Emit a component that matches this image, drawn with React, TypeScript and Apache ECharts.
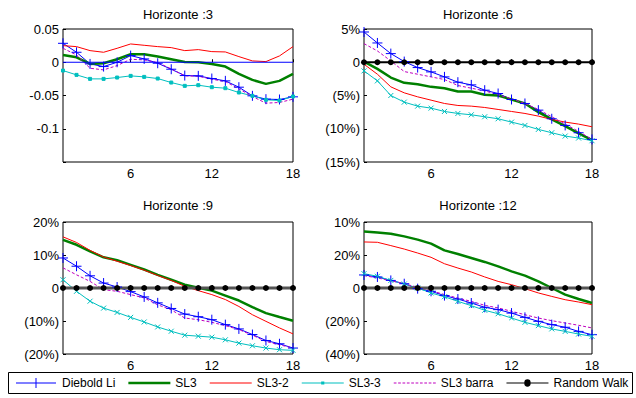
import React, { useEffect, useRef } from "react";
import * as echarts from "echarts";

const horizons = [1, 2, 3, 4, 5, 6, 7, 8, 9, 10, 11, 12, 13, 14, 15, 16, 17, 18];
const titles = ["Horizonte :3", "Horizonte :6", "Horizonte :9", "Horizonte :12"];
const seriesNames = ["Diebold Li", "SL3", "SL3-2", "SL3-3", "SL3 barra", "Random Walk"];
const xTickValues = [6, 12, 18];

// Horizonte :3 (decimal values)
const h3DieboldLi = [0.0285, 0.015, -0.0025, -0.0065, 0, 0.01, 0.005, -0.0015, -0.0105, -0.02, -0.0205, -0.0245, -0.028, -0.0375, -0.0505, -0.0555, -0.056, -0.052];
const h3SL3 = [0.011, 0.0075, -0.0025, -0.0015, 0.0045, 0.012, 0.012, 0.0085, 0.0045, 0.0005, 0, -0.0025, -0.0065, -0.0175, -0.0265, -0.0325, -0.028, -0.0175];
const h3SL3_2 = [0.025, 0.0235, 0.0175, 0.015, 0.021, 0.0275, 0.0255, 0.0235, 0.022, 0.0175, 0.019, 0.016, 0.0155, 0.0085, 0.002, 0.001, 0.0095, 0.0235];
const h3SL3_3 = [-0.0125, -0.019, -0.025, -0.025, -0.023, -0.0205, -0.022, -0.0245, -0.0305, -0.0355, -0.0345, -0.0375, -0.039, -0.0455, -0.0505, -0.0565, -0.0575, -0.0515];
const h3SL3Barra = [0.021, 0.011, -0.009, -0.0115, -0.005, 0.0045, 0.0035, -0.0005, -0.01, -0.0205, -0.021, -0.0255, -0.029, -0.04, -0.0515, -0.0615, -0.0605, -0.0555];
const h3RandomWalk = [0, 0, 0, 0, 0, 0, 0, 0, 0, 0, 0, 0, 0, 0, 0, 0, 0, 0];

// Horizonte :6 (percent)
const h6DieboldLi = [4.55, 2.9, 1.3, 0.1, -0.8, -1.45, -2.2, -3.0, -3.4, -4.2, -4.7, -5.6, -6.2, -7.2, -8.5, -9.5, -10.6, -11.6];
const h6SL3 = [0.1, -1.0, -2.3, -3.1, -3.3, -3.7, -3.9, -4.4, -4.4, -4.9, -5.0, -5.6, -6.2, -7.5, -8.6, -9.6, -10.7, -11.7];
const h6SL3_2 = [-0.3, -1.8, -3.7, -4.6, -5.2, -5.7, -6.2, -6.5, -6.6, -6.8, -7.1, -7.4, -7.7, -8.1, -8.6, -9.0, -9.3, -9.7];
const h6SL3_3 = [-1.3, -2.8, -5.0, -6.0, -6.6, -6.9, -7.4, -7.7, -7.9, -8.2, -8.5, -9.0, -9.5, -10.1, -10.6, -11.1, -11.4, -11.8];
const h6SL3Barra = [2.8, 1.7, 0.2, -1.4, -1.8, -2.2, -2.6, -3.5, -3.9, -4.3, -4.9, -5.5, -6.2, -7.1, -8.2, -9.3, -10.4, -11.6];
const h6RandomWalk = [0, 0, 0, 0, 0, 0, 0, 0, 0, 0, 0, 0, 0, 0, 0, 0, 0, 0];

// Horizonte :9 (percent)
const h9DieboldLi = [9.1, 6.6, 3.7, 1.5, 0.3, -1.1, -2.7, -4.5, -6.2, -7.9, -8.7, -9.6, -11.1, -12.4, -14.1, -15.9, -16.9, -18.2];
const h9SL3 = [14.6, 13.1, 11.1, 9.3, 8.4, 7.0, 5.6, 4.0, 2.5, 1.0, 0.1, -0.8, -2.3, -3.8, -5.8, -7.6, -8.8, -9.9];
const h9SL3_2 = [15.5, 13.8, 11.4, 9.4, 8.1, 6.8, 5.4, 3.8, 2.3, 0.5, -0.8, -2.0, -3.5, -5.6, -8.1, -10.1, -12.1, -13.9];
const h9SL3_3 = [2.5, -1.0, -4.0, -6.1, -7.4, -8.9, -10.3, -11.8, -13.1, -14.3, -14.6, -14.9, -15.7, -16.7, -17.5, -18.2, -18.7, -18.9];
const h9SL3Barra = [6.1, 4.0, 2.0, -0.5, -1.0, -2.0, -3.0, -5.1, -6.6, -9.1, -9.6, -10.4, -11.4, -12.6, -14.3, -16.2, -17.2, -18.2];
const h9RandomWalk = [0, 0, 0, 0, 0, 0, 0, 0, 0, 0, 0, 0, 0, 0, 0, 0, 0, 0];

// Horizonte :12 (percent)
const h12DieboldLi = [7.9, 6.7, 4.6, 2.6, -0.4, -2.0, -4.6, -6.7, -9.1, -11.7, -13.1, -15.2, -17.8, -20.2, -22.2, -23.8, -26.3, -28.3];
const h12SL3 = [34.3, 33.7, 32.9, 31.3, 29.3, 26.9, 22.8, 20.6, 18.2, 15.8, 13.1, 10.1, 7.5, 4.0, 0, -4.0, -6.7, -9.1];
const h12SL3_2 = [27.9, 27.7, 25.7, 23.6, 21.2, 18.6, 14.7, 12.1, 9.7, 6.7, 4.0, 2.0, -0.4, -3.0, -5.1, -7.1, -8.5, -10.1];
const h12SL3_3 = [8.7, 7.1, 4.6, 2.4, 0, -3.0, -5.3, -8.1, -10.7, -13.5, -15.6, -18.2, -20.8, -22.8, -24.8, -26.3, -27.9, -29.3];
const h12SL3Barra = [7.5, 6.1, 4.4, 2.6, 0.4, -1.6, -4.0, -6.1, -8.1, -10.5, -12.1, -14.1, -16.2, -18.2, -19.8, -21.2, -22.6, -24.2];
const h12RandomWalk = [0, 0, 0, 0, 0, 0, 0, 0, 0, 0, 0, 0, 0, 0, 0, 0, 0, 0];

// y tick labels (bottom to top)
const yTicks3 = ["", "-0.1", "-0.05", "0", "0.05"];
const yTicks6 = ["(15%)", "(10%)", "(5%)", "0", "5%"];
const yTicks9 = ["(20%)", "(10%)", "0", "10%", "20%"];
const yTicks12 = ["(40%)", "(20%)", "0", "20%", "10%"];

const panelData = [
  [h3DieboldLi, h3SL3, h3SL3_2, h3SL3_3, h3SL3Barra, h3RandomWalk],
  [h6DieboldLi, h6SL3, h6SL3_2, h6SL3_3, h6SL3Barra, h6RandomWalk],
  [h9DieboldLi, h9SL3, h9SL3_2, h9SL3_3, h9SL3Barra, h9RandomWalk],
  [h12DieboldLi, h12SL3, h12SL3_2, h12SL3_3, h12SL3Barra, h12RandomWalk],
];
const panelTicks = [yTicks3, yTicks6, yTicks9, yTicks12];
const panelRange = [
  { min: -0.15, max: 0.05, interval: 0.05 },
  { min: -15, max: 5, interval: 5 },
  { min: -20, max: 20, interval: 10 },
  { min: -40, max: 40, interval: 20 },
];

const gridLayout = [
  { left: 63, top: 29, width: 230, height: 133, titleTop: 8 },
  { left: 364, top: 29, width: 228, height: 133, titleTop: 8 },
  { left: 63, top: 222, width: 230, height: 132, titleTop: 199 },
  { left: 364, top: 222, width: 228, height: 132, titleTop: 199 },
];

const FONT = "Liberation Sans, Arial, sans-serif";
const plusSymbol = "path://M5,0L5,10M0,5L10,5";
const xSymbol = "path://M0,0L10,10M0,10L10,0";

// legend icons drawn in a 40x10 box (filled shapes)
const iconLine = "path://M0,4.5L40,4.5L40,5.5L0,5.5Z";
const iconThick = "path://M0,3.8L40,3.8L40,6.2L0,6.2Z";
const iconPlus = "path://M0,4.5L19.5,4.5L19.5,0L20.5,0L20.5,4.5L40,4.5L40,5.5L20.5,5.5L20.5,10L19.5,10L19.5,5.5L0,5.5Z";
const iconDot = "path://M0,4.5L18.5,4.5L18.5,3.5L21.5,3.5L21.5,4.5L40,4.5L40,5.5L21.5,5.5L21.5,6.5L18.5,6.5L18.5,5.5L0,5.5Z";
const iconDash = "path://" + Array.from({ length: 10 }, (_, i) => `M${i * 4},4.5L${i * 4 + 2.5},4.5L${i * 4 + 2.5},5.5L${i * 4},5.5Z`).join("");
const iconBigDot = "path://M0,4.5L17,4.5A3,3 0 0 1 23,4.5L40,4.5L40,5.5L23,5.5A3,3 0 0 1 17,5.5L0,5.5Z";

const legendItems = [
  { name: "Diebold Li", icon: iconPlus, itemStyle: { color: "#0000ff", borderWidth: 0 } },
  { name: "SL3", icon: iconThick, itemStyle: { color: "#008000", borderWidth: 0 } },
  { name: "SL3-2", icon: iconLine, itemStyle: { color: "#ff0000", borderWidth: 0 } },
  { name: "SL3-3", icon: iconDot, itemStyle: { color: "#00bfbf", borderWidth: 0 } },
  { name: "SL3 barra", icon: iconDash, itemStyle: { color: "#bf00bf", borderWidth: 0 } },
  { name: "Random Walk", icon: iconBigDot, itemStyle: { color: "#000000", borderWidth: 0 } },
];

function styleFor(name: string, panel: number): any {
  switch (name) {
    case "Diebold Li":
      return {
        lineStyle: { color: "#0000ff", width: 1 },
        itemStyle: { color: "#0000ff", borderColor: "#0000ff", borderWidth: 1 },
        symbol: plusSymbol,
        symbolSize: 10,
        showSymbol: true,
      };
    case "SL3":
      return { lineStyle: { color: "#008000", width: 2.5 }, itemStyle: { color: "#008000" }, symbol: "none" };
    case "SL3-2":
      return { lineStyle: { color: "#ff0000", width: 1 }, itemStyle: { color: "#ff0000" }, symbol: "none" };
    case "SL3-3":
      return {
        lineStyle: { color: "#00bfbf", width: 1 },
        itemStyle: { color: "#00bfbf", borderColor: "#00bfbf", borderWidth: 1 },
        symbol: panel === 0 ? "rect" : xSymbol,
        symbolSize: panel === 0 ? 3 : 5,
      };
    case "SL3 barra":
      return { lineStyle: { color: "#bf00bf", width: 1, type: [3, 2] }, itemStyle: { color: "#bf00bf" }, symbol: "none" };
    default:
      if (panel === 0) {
        return { lineStyle: { color: "#0000ff", width: 1.2 }, itemStyle: { color: "#0000ff" }, symbol: "none" };
      }
      return {
        lineStyle: { color: panel === 1 ? "#000000" : "#555555", width: panel === 1 ? 2 : 3 },
        itemStyle: { color: "#000000" },
        symbol: "circle",
        symbolSize: 6,
      };
  }
}

export default function App() {
  const ref = useRef<HTMLDivElement>(null);
  useEffect(() => {
    document.body.style.margin = "0";
    const chart = echarts.init(ref.current!, null, { renderer: "svg" });

    const grids = gridLayout.map((g) => ({
      left: g.left,
      top: g.top,
      width: g.width,
      height: g.height,
      show: true,
      borderColor: "#000",
      borderWidth: 1,
      backgroundColor: "#fff",
      containLabel: false,
    }));

    const xAxes = gridLayout.map((_, i) => ({
      type: "value",
      gridIndex: i,
      min: 1,
      max: 18,
      axisLine: { show: false },
      splitLine: { show: false },
      axisTick: { show: true, inside: true, length: 3, customValues: xTickValues, lineStyle: { color: "#000" } },
      axisLabel: { customValues: xTickValues, color: "#000", fontFamily: FONT, fontSize: 13, margin: 5 },
    }));

    const yAxes = gridLayout.map((_, i) => {
      const r = panelRange[i];
      const ticks = panelTicks[i];
      return {
        type: "value",
        gridIndex: i,
        min: r.min,
        max: r.max,
        interval: r.interval,
        axisLine: { show: false },
        splitLine: { show: false },
        axisTick: { show: true, inside: true, length: 3, lineStyle: { color: "#000" } },
        axisLabel: {
          color: "#000",
          fontFamily: FONT,
          fontSize: 13,
          margin: 4,
          formatter: (v: number) => {
            const idx = Math.round((v - r.min) / r.interval);
            return ticks[idx] ?? "";
          },
        },
      };
    });

    const series: any[] = [];
    panelData.forEach((arrs, p) => {
      arrs.forEach((vals, k) => {
        const name = seriesNames[k];
        series.push({
          type: "line",
          name: p === 0 && name === "Random Walk" ? "Random Walk h3" : name,
          xAxisIndex: p,
          yAxisIndex: p,
          data: horizons.map((h, j) => [h, vals[j]]),
          silent: true,
          clip: false,
          ...styleFor(name, p),
        });
      });
    });

    const titleObjs = gridLayout.map((g, i) => ({
      text: titles[i],
      left: g.left + g.width / 2,
      top: g.titleTop,
      textAlign: "center",
      padding: 0,
      textStyle: { fontFamily: FONT, fontSize: 13, fontWeight: "normal", color: "#000" },
    }));

    chart.setOption({
      animation: false,
      backgroundColor: "#fff",
      title: titleObjs,
      grid: grids,
      xAxis: xAxes,
      yAxis: yAxes,
      series,
      legend: {
        data: legendItems,
        left: 16,
        top: 377,
        itemWidth: 42,
        itemHeight: 10,
        itemGap: 13,
        padding: 0,
        textStyle: { fontFamily: FONT, fontSize: 12, color: "#000" },
        selectedMode: false,
      },
      graphic: [
        {
          type: "rect",
          shape: { x: 8.5, y: 372.5, width: 624, height: 21 },
          style: { fill: "none", stroke: "#000", lineWidth: 1 },
          z: 100,
        },
      ],
    });
    return () => chart.dispose();
  }, []);
  return <div ref={ref} style={{ width: 636, height: 398 }} />;
}
